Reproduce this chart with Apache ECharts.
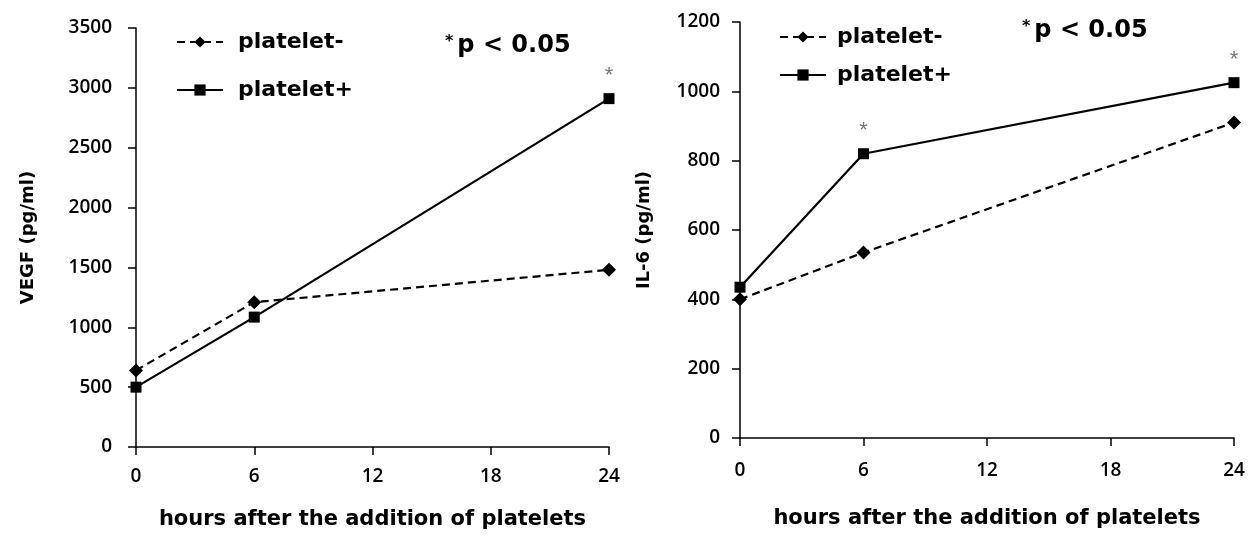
<!DOCTYPE html>
<html><head><meta charset="utf-8">
<script src="https://cdn.jsdelivr.net/npm/echarts@6/dist/echarts.min.js"></script>
<style>html,body{margin:0;padding:0;background:#fff}#c{width:1251px;height:541px}</style>
</head><body><div id="c"></div>
<script>
const hours = [0, 6, 24];
const xTicks = [0, 6, 12, 18, 24];
const vegfMinus = [640, 1210, 1480];
const vegfPlus = [500, 1085, 2910];
const vegfSig = [false, false, true];
const il6Minus = [400, 535, 910];
const il6Plus = [435, 820, 1025];
const il6Sig = [false, true, true];
const seriesNames = ['platelet-', 'platelet+'];
const yTitles = ['VEGF (pg/ml)', 'IL-6 (pg/ml)'];
const xTitle = 'hours after the addition of platelets';
const sigText = 'p < 0.05';

const FONT = 'DejaVu Sans';
const TICKFONT = 'Open Sans';
const chart = echarts.init(document.getElementById('c'));

function pts(vals, sig) {
  return vals.map((v, i) => {
    const d = { value: [hours[i], v] };
    if (sig && sig[i]) {
      d.label = { show: true, position: 'top', distance: 6, formatter: '*', color: '#777', fontSize: 22, fontFamily: 'Liberation Sans' };
    }
    return d;
  });
}

function xAxis(gi, nameGap, margin) {
  return {
    type: 'value', gridIndex: gi, min: 0, max: 24, interval: 6,
    name: xTitle, nameLocation: 'middle', nameGap: nameGap,
    nameTextStyle: { fontFamily: FONT, fontWeight: 'bold', fontSize: 21, color: '#000' },
    axisLine: { lineStyle: { color: '#000', width: 1.5 } },
    axisTick: { show: true, length: 8, lineStyle: { color: '#000', width: 1.5 } },
    axisLabel: { margin: margin, fontFamily: TICKFONT, fontWeight: 600, fontSize: 19, color: '#000', formatter: v => String(v) },
    splitLine: { show: false }
  };
}
function yAxis(gi, max, interval, name, nameGap, margin) {
  return {
    type: 'value', gridIndex: gi, min: 0, max: max, interval: interval,
    name: name, nameLocation: 'middle', nameGap: nameGap,
    nameTextStyle: { fontFamily: FONT, fontWeight: 'bold', fontSize: 18, color: '#000' },
    axisLine: { show: true, lineStyle: { color: '#000', width: 1.5 } },
    axisTick: { show: true, length: 8, lineStyle: { color: '#000', width: 1.5 } },
    axisLabel: { margin: margin, fontFamily: TICKFONT, fontWeight: 600, fontSize: 19, color: '#000', formatter: v => String(v) },
    splitLine: { show: false }
  };
}
function lineSeries(name, xi, vals, sig, dashed) {
  return {
    name: name, type: 'line', xAxisIndex: xi, yAxisIndex: xi,
    data: pts(vals, sig),
    symbol: dashed ? 'diamond' : 'rect',
    symbolSize: dashed ? 14 : 11,
    itemStyle: { color: '#000' },
    lineStyle: { color: '#000', width: 2.2, type: dashed ? [8, 5] : 'solid' },
    label: { show: false },
    animation: false
  };
}

function legend(left, top, gap, textPad) {
  return {
    orient: 'vertical', itemWidth: 46, itemHeight: 14, left: left, top: top, itemGap: gap,
    textStyle: { fontFamily: FONT, fontWeight: 'bold', fontSize: 22, color: '#000', padding: [0, 0, 0, textPad] },
    data: seriesNames
  };
}

function sig(left, top) {
  return { type: 'text', left: left, top: top, style: { text: '{a|*}{b|' + sigText + '}', rich: {
    a: { fontFamily: FONT, fontWeight: 'bold', fontSize: 16, verticalAlign: 'top', fill: '#000', padding: [0, 4, 0, 0] },
    b: { fontFamily: FONT, fontWeight: 'bold', fontSize: 24, fill: '#000' } } } };
}

chart.setOption({
  animation: false,
  grid: [
    { left: 136, right: 642, top: 28, bottom: 94 },
    { left: 740, right: 17, top: 22, bottom: 103 }
  ],
  xAxis: [xAxis(0, 62, 20), xAxis(1, 70, 23)],
  yAxis: [
    yAxis(0, 3500, 500, yTitles[0], 99, 24),
    yAxis(1, 1200, 200, yTitles[1], 87, 20)
  ],
  legend: [legend(171, 26, 26, 10), legend(774, 21, 16, 6)],
  series: [
    lineSeries(seriesNames[0], 0, vegfMinus, null, true),
    lineSeries(seriesNames[1], 0, vegfPlus, vegfSig, false),
    lineSeries(seriesNames[0], 1, il6Minus, null, true),
    lineSeries(seriesNames[1], 1, il6Plus, il6Sig, false)
  ],
  graphic: [sig(445, 34), sig(1022, 19)]
});
</script></body></html>
